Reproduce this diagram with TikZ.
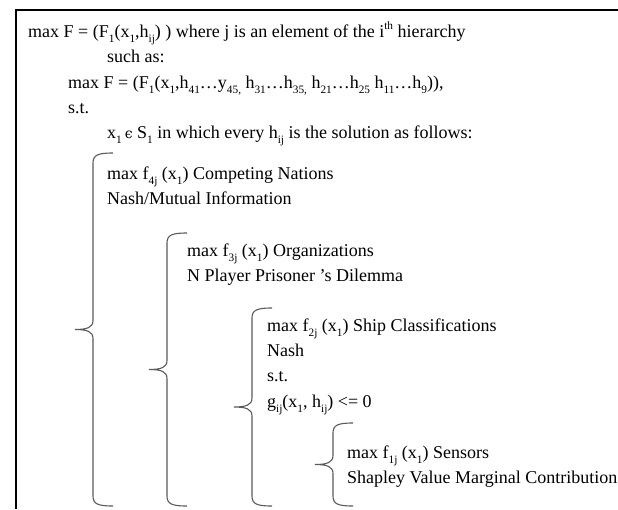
\documentclass[tikz,border=0pt]{standalone}
\usepackage{fontspec}
\setmainfont{Liberation Serif}
\newfontfamily\dvs{DejaVu Serif}
\newcommand\lo[1]{\raisebox{-0.28em}{\fontsize{11.3}{11.3}\selectfont #1}}
\newcommand\hi[1]{\raisebox{0.42em}{\fontsize{11.3}{11.3}\selectfont #1}}
\newcommand\mybrace[3]{%
  \draw[brc] ({#1+20},#2) .. controls ({#1+5},#2) and (#1,{#2+2}) .. (#1,{#2+10})
    -- (#1,{(#2+#3)/2-9}) .. controls (#1,{(#2+#3)/2-2}) and ({#1-6},{(#2+#3)/2}) .. ({#1-18},{(#2+#3)/2})
    .. controls ({#1-6},{(#2+#3)/2}) and (#1,{(#2+#3)/2+2}) .. (#1,{(#2+#3)/2+9})
    -- (#1,{#3-10}) .. controls (#1,{#3-2}) and ({#1+5},#3) .. ({#1+20},#3);}
\begin{document}
\begin{tikzpicture}[x=1pt,y=-1pt,
  txt/.style={anchor=base west,inner sep=0pt,font=\fontsize{18}{20}\selectfont},
  brc/.style={draw=black!65,line width=1.1pt}]
\useasboundingbox (0,0) rectangle (618,509);
\draw[line width=2pt] (15.5,509) -- (15.5,10) -- (618,10);
\node[txt] (l1) at (28,37) {max F = (F\lo{1}(x\lo{1},h\lo{ij}) ) where j is an element of the i\hi{th} hierarchy};
\node[txt] (l2) at (107,62) {such as:};
\node[txt] (l3) at (68,88) {max F = (F\lo{1}(x\lo{1},h\lo{41}\dots y\lo{45,} h\lo{31}\dots h\lo{35,} h\lo{21}\dots h\lo{25} h\lo{11}\dots h\lo{9})),};
\node[txt] (l4) at (68,113) {s.t.};
\node[txt] (l5) at (107,138) {x\lo{1}\,{\dvs\fontsize{14}{14}\selectfont ϵ} S\lo{1} in which every h\lo{ij} is the solution as follows:};
\mybrace{93}{153}{506}
\node[txt] (a1) at (107,179) {max f\lo{4j} (x\lo{1}) Competing Nations};
\node[txt] (a2) at (107,204) {Nash/Mutual Information};
\mybrace{167}{233}{506}
\node[txt] (b1) at (187,256) {max f\lo{3j} (x\lo{1}) Organizations};
\node[txt] (b2) at (187,281) {N Player Prisoner ’s Dilemma};
\mybrace{252}{308}{506}
\node[txt] (c1) at (267,331) {max f\lo{2j} (x\lo{1}) Ship Classifications};
\node[txt] (c2) at (267,356) {Nash};
\node[txt] (c3) at (267,381) {s.t.};
\node[txt] (c4) at (267,407) {g\lo{ij}(x\lo{1}, h\lo{ij}) <= 0};
\mybrace{333}{423}{506}
\node[txt] (d1) at (347,458) {max f\lo{1j} (x\lo{1}) Sensors};
\node[txt] (d2) at (347,483) {Shapley Value Marginal Contributions};
\end{tikzpicture}
\end{document}
